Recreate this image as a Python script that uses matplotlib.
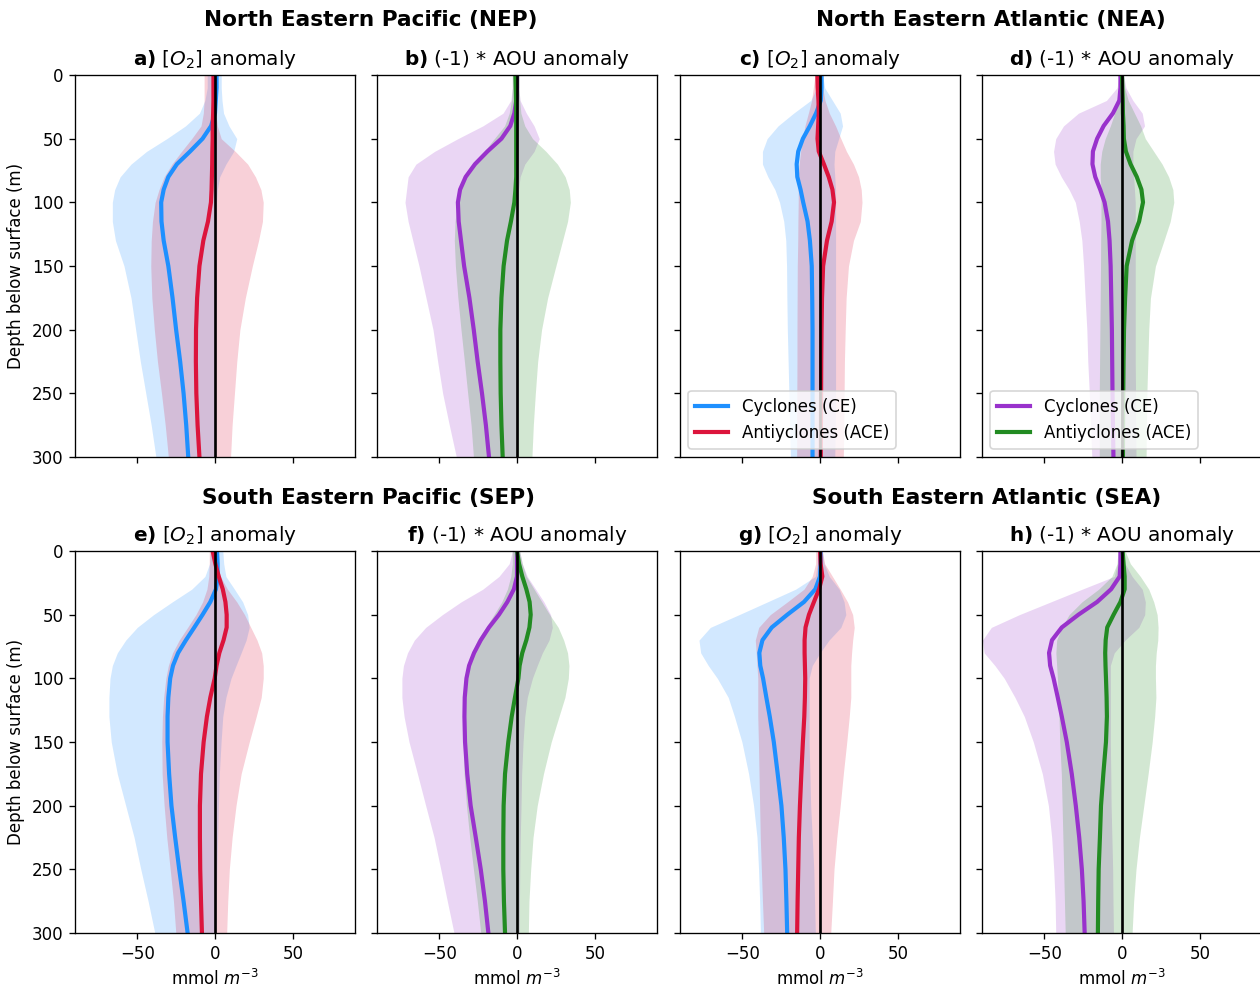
import matplotlib
matplotlib.use("Agg")
from matplotlib import pyplot as plt

DEPTH = [0, 10, 20, 30, 40, 50, 60, 70, 80, 90, 100, 115, 130, 150, 175, 200, 225, 250, 275, 300]

# a) NEP, [O2] anomaly
nep_o2_ce_mean = [1, 1, 0.5, 0, -2.5, -8, -16, -24.5, -30, -33, -34.6, -34.4, -33, -30, -27.3, -25, -22.4, -20.2, -18.5, -17.2]
nep_o2_ce_lo = [-5, -5, -6.5, -10, -19, -31, -44, -54, -61, -64.5, -66, -66, -64, -58.5, -54, -51, -48, -44.5, -41, -38]
nep_o2_ce_hi = [4, 4, 4.5, 5.5, 9, 14, 12, 7, 3, 1.5, 1, 1, 1, 1, 1, 0.5, 0.5, 0, 0, -0.5]
nep_o2_ace_mean = [-1, -1, -1, -1.2, -1.5, -1.5, -1.7, -1.8, -2, -2.2, -2.6, -4.5, -7.5, -10, -11.5, -12.2, -12.3, -12, -11.2, -10]
nep_o2_ace_lo = [-7, -7, -7, -7.5, -9, -15, -21.5, -27.7, -32.7, -36, -38.5, -40.2, -41, -41.3, -40.6, -39, -37, -34.4, -32, -30]
nep_o2_ace_hi = [0, 0, 0, 0.5, 1.5, 4, 13, 21, 26, 29.5, 31, 30.5, 28, 24, 19.5, 16, 14, 12.5, 11, 10]

# b) NEP, (-1) * AOU anomaly
nep_aou_ce_mean = [0, 0, -0.5, -1.7, -4.3, -10, -19, -27, -33, -36.6, -38, -37.5, -36, -34, -30.6, -27.8, -25.3, -22.5, -20, -18]
nep_aou_ce_lo = [-3, -3, -4, -9, -22, -38, -53, -65, -70, -71, -72, -70, -67, -63, -58.5, -54, -51, -47.8, -43.5, -39]
nep_aou_ce_hi = [0.5, 1, 2, 6, 11, 14.3, 11, 5, 2, 1, 1, 1, 1, 1, 1, 1, 1, 1, 1, 1]
nep_aou_ace_mean = [-1, -0.8, -0.6, -0.5, -0.5, -0.5, -0.5, -0.5, -0.5, -1, -1.7, -3.9, -6.4, -8.6, -10, -10.7, -10.7, -10.5, -10, -9.2]
nep_aou_ace_lo = [-3, -3, -3.5, -5, -8, -14.6, -21, -27.4, -32.8, -36.4, -38.5, -39.8, -40.3, -39.6, -38, -36, -33.8, -31.7, -29.5, -28]
nep_aou_ace_hi = [1.5, 1.5, 1.7, 2.5, 5, 10, 18.6, 26, 31, 33.6, 34.3, 32.5, 29.3, 25, 19.7, 15.8, 13.3, 11.8, 10.5, 9.6]

# c) NEA, [O2] anomaly
nea_o2_ce_mean = [1, 1, 0.5, -2.5, -6.5, -11, -14, -15, -14.6, -12.5, -10.8, -8, -6.5, -5.3, -5, -4.8, -4.8, -4.8, -4.8, -4.8]
nea_o2_ce_lo = [-2, -2, -6, -17, -27, -34, -37, -37, -33.5, -29, -26, -23.3, -22, -21.5, -21.3, -21, -20.5, -20, -19.5, -19]
nea_o2_ce_hi = [1.7, 3, 8, 13, 14.5, 12, 9.5, 9, 9.5, 10, 10, 10, 10, 10, 10, 10, 10, 10, 9.8, 9.5]
nea_o2_ace_mean = [-1.7, -1.5, -1, -0.8, -1.2, -1.6, -0.8, 2.5, 5.6, 8, 9, 7.5, 4.5, 2, 1.3, 1, 0.8, 0.7, 0.6, 0.5]
nea_o2_ace_lo = [-3.2, -4.3, -5.4, -7.5, -9.7, -11.2, -12.5, -13.4, -14, -14, -14, -14.2, -14.3, -14.6, -14.7, -14.8, -14.8, -14.9, -15, -15]
nea_o2_ace_hi = [1, 1.7, 3.2, 6, 10, 13.4, 17, 21.5, 24.8, 26.5, 27, 25.9, 21.5, 18.3, 16.8, 16.2, 15.7, 15.5, 15.3, 15]

# d) NEA, (-1) * AOU anomaly
nea_aou_ce_mean = [-1, -1, -1.7, -5.8, -11.8, -16, -18.7, -19, -17.2, -14, -11.2, -9, -8, -7.3, -6.9, -6.5, -6.3, -6.1, -5.8, -5.5]
nea_aou_ce_lo = [-1.7, -3.2, -10, -28, -37.6, -42.6, -44, -43, -39, -34, -30, -27.5, -25.8, -24.7, -23.7, -22.6, -22, -21, -20.2, -19.4]
nea_aou_ce_hi = [1, 2.5, 7, 13, 14.5, 9, 7, 7, 7.5, 8, 8.5, 8.5, 8.5, 8.5, 8.5, 8.5, 8.5, 8.7, 8.8, 9]
nea_aou_ace_mean = [0, 0.2, 0.5, 0.6, 1, 1.2, 2.5, 5.5, 9.5, 12.5, 13.5, 11, 6.5, 3, 2, 1.3, 1, 0.8, 0.7, 0.6]
nea_aou_ace_lo = [-1.7, -2, -3.2, -4.7, -7.5, -10.8, -13, -14, -14, -13.5, -13.5, -13.5, -13.7, -13.8, -14, -14.2, -14.4, -14.6, -14.6, -14.6]
nea_aou_ace_hi = [1, 1.7, 4, 8, 12, 15, 20.4, 25.8, 30, 32.7, 33.3, 31, 27, 21.5, 18.3, 17.2, 16.6, 16, 15.7, 15.5]

# e) SEP, [O2] anomaly
sep_o2_ce_mean = [1.3, 1.7, 1.7, 0.6, -3, -8, -13.3, -18.7, -23.7, -27, -28.8, -30, -30.5, -30.5, -29.5, -28, -25.6, -23, -20.2, -17.6]
sep_o2_ce_lo = [-3, -3.5, -6.5, -15, -27.5, -39.5, -50, -57.4, -62.8, -66, -67.5, -68.2, -68.2, -66.7, -62.8, -57.4, -52, -47.7, -43, -38.7]
sep_o2_ce_hi = [5, 5.6, 7, 12.5, 17.8, 21, 22, 20, 16.8, 13.5, 10.3, 7, 5, 3.9, 2.8, 2.2, 1.7, 1.2, 0.9, 0.6]
sep_o2_ace_mean = [-1.5, 0.2, 2.4, 5, 6.7, 7.5, 7.5, 5.5, 2.8, 1, -0.2, -3, -5.2, -7.3, -9, -9.7, -9.7, -9.5, -9, -8.4]
sep_o2_ace_lo = [-3.7, -3.7, -4, -5.2, -8, -12.3, -17.6, -23, -27.3, -30, -31.6, -33, -33.8, -34.2, -34, -32.7, -31, -28.8, -26.7, -25.2]
sep_o2_ace_hi = [0, 1, 3.5, 8, 14, 19, 23, 27, 30, 31, 31, 29.7, 26.5, 22, 16.8, 13.5, 11, 9.2, 8.2, 7.5]

# f) SEP, (-1) * AOU anomaly
sep_aou_ce_mean = [0, 0, 0, -2, -6.2, -11.6, -18, -23.3, -27.6, -30.8, -32.5, -33.6, -33.8, -33.4, -32, -29.8, -26.5, -23.3, -20.6, -18.4]
sep_aou_ce_lo = [-3, -5, -11.6, -22, -36, -48, -58.7, -66, -70.4, -73, -74, -74, -72.6, -69.4, -64, -58.7, -53.3, -49, -44.8, -40.5]
sep_aou_ce_hi = [1.7, 3.4, 6.6, 12, 17.3, 21.6, 22.7, 20.6, 16.3, 13, 9.9, 6.6, 5, 3.9, 3, 2.6, 2.1, 1.8, 1.6, 1.5]
sep_aou_ace_mean = [0, 1.3, 3.4, 6, 8.1, 8.8, 8, 6, 3.4, 1.7, 0.9, -1.3, -3.4, -5.6, -7.7, -8.6, -8.8, -8.8, -8.4, -7.7]
sep_aou_ace_lo = [-3, -3, -4, -6.2, -9.8, -14.8, -20, -25.5, -29, -31.5, -33, -33.8, -34.3, -34.5, -34, -32.5, -30.4, -28, -25.5, -23.3]
sep_aou_ace_hi = [1.7, 3.4, 6, 11, 16, 21, 26.5, 30, 32.5, 33.4, 33, 30.8, 27, 22, 17, 13, 10.3, 8.8, 7.7, 7.3]

# g) SEA, [O2] anomaly
sea_o2_ce_mean = [0.4, 0.4, 0, -3, -10.3, -21, -31, -37, -39, -38.4, -36.6, -34.5, -32.3, -29.7, -27.2, -24.8, -23.3, -22.2, -21.6, -21.1]
sea_o2_ce_lo = [-1.7, -1.7, -3, -15.7, -33.8, -52, -70.5, -77.8, -76.7, -71.8, -66, -59, -55, -50.2, -45.9, -42.7, -40.5, -39.5, -38.8, -38.3]
sea_o2_ce_hi = [1.5, 2.6, 6, 12.3, 15.5, 16.6, 13.4, 5.8, 0, -5, -7, -7, -7, -7, -6.5, -6, -5, -4, -3.5, -3]
sea_o2_ace_mean = [0, 0.4, 1.5, -0.6, -3.9, -7.1, -9.3, -9.9, -9.9, -9.7, -9.5, -9.7, -10.1, -11, -12, -12.9, -13.6, -14, -14.4, -14.7]
sea_o2_ace_lo = [-2.8, -2.8, -5, -10.3, -21, -32, -39.4, -41.6, -41, -40.5, -40, -40, -40, -39.6, -39.2, -38.8, -38.4, -37.7, -37, -36.2]
sea_o2_ace_hi = [1.5, 3, 8, 13, 17.7, 21, 22, 21, 20.3, 19.8, 19.8, 19.8, 18.8, 17.2, 15, 13, 10.8, 9, 8, 6.9]

# h) SEA, (-1) * AOU anomaly
sea_aou_ce_mean = [-1, -1, -1.5, -7, -16, -28, -38.7, -45, -46.9, -46.2, -44, -41.3, -38.7, -35.5, -32.3, -29.7, -27.5, -25.8, -24.7, -24]
sea_aou_ce_lo = [-2, -3, -5, -25.6, -45.8, -66, -84, -89.7, -88.6, -81.7, -75.7, -68.8, -62.8, -57, -51.2, -47.3, -45.2, -43.9, -43, -42.6]
sea_aou_ce_hi = [1, 2, 6.5, 13, 15, 14.6, 10.8, 2, -5, -7.5, -7.5, -7.5, -7.5, -7.5, -7.2, -7, -6.5, -6, -5.8, -5.5]
sea_aou_ace_mean = [0.4, 1, 1.7, 1.7, -1, -5.4, -9.5, -10.5, -10.8, -10.6, -10.3, -9.9, -9.7, -10.3, -12, -13.5, -14.2, -15, -15.3, -15.5]
sea_aou_ace_lo = [-2.6, -3.2, -6.5, -15, -25.8, -34, -38.7, -42, -42.5, -42, -41.5, -41, -40.5, -40, -39, -38.5, -38, -37.5, -37, -36.5]
sea_aou_ace_hi = [2, 5.4, 11.8, 17.2, 20.4, 22.6, 23.2, 23, 22, 21.5, 21.5, 21.8, 21, 19.4, 16.8, 14, 11.2, 9, 7.5, 6.5]

O2_COLORS = ("dodgerblue", "crimson")
AOU_COLORS = ("darkorchid", "forestgreen")
LABELS = ("Cyclones (CE)", "Antiyclones (ACE)")


def draw_panel(ax, ce, ace, colors, title, legend=False):
    c_ce, c_ace = colors
    ax.fill_betweenx(DEPTH, ce[1], ce[2], color=c_ce, alpha=0.2, linewidth=0)
    ax.fill_betweenx(DEPTH, ace[1], ace[2], color=c_ace, alpha=0.2, linewidth=0)
    ax.plot(ce[0], DEPTH, color=c_ce, lw=2.5, label=LABELS[0])
    ax.plot(ace[0], DEPTH, color=c_ace, lw=2.5, label=LABELS[1])
    ax.axvline(0, color="k", lw=1.6)
    ax.set_xlim(-90, 90)
    ax.set_ylim(300, 0)
    ax.set_xticks([-50, 0, 50])
    ax.set_yticks([0, 50, 100, 150, 200, 250, 300])
    ax.set_title(title, fontsize=12)
    if legend:
        ax.legend(loc="lower left", fontsize=10)


# original was drawn at 120 dpi
fig = plt.figure(figsize=(1260 / 120, 989 / 120), dpi=120)

lefts = [75 / 1260, 377 / 1260, 680 / 1260, 982 / 1260]
w = 280 / 1260
h = 382 / 989
bottoms = [1 - 457 / 989, 1 - 933 / 989]

panels = [
    [
        ((nep_o2_ce_mean, nep_o2_ce_lo, nep_o2_ce_hi), (nep_o2_ace_mean, nep_o2_ace_lo, nep_o2_ace_hi), O2_COLORS, r"$\bf{a)}$ [$O_2$] anomaly", False),
        ((nep_aou_ce_mean, nep_aou_ce_lo, nep_aou_ce_hi), (nep_aou_ace_mean, nep_aou_ace_lo, nep_aou_ace_hi), AOU_COLORS, r"$\bf{b)}$ (-1) * AOU anomaly", False),
        ((nea_o2_ce_mean, nea_o2_ce_lo, nea_o2_ce_hi), (nea_o2_ace_mean, nea_o2_ace_lo, nea_o2_ace_hi), O2_COLORS, r"$\bf{c)}$ [$O_2$] anomaly", True),
        ((nea_aou_ce_mean, nea_aou_ce_lo, nea_aou_ce_hi), (nea_aou_ace_mean, nea_aou_ace_lo, nea_aou_ace_hi), AOU_COLORS, r"$\bf{d)}$ (-1) * AOU anomaly", True),
    ],
    [
        ((sep_o2_ce_mean, sep_o2_ce_lo, sep_o2_ce_hi), (sep_o2_ace_mean, sep_o2_ace_lo, sep_o2_ace_hi), O2_COLORS, r"$\bf{e)}$ [$O_2$] anomaly", False),
        ((sep_aou_ce_mean, sep_aou_ce_lo, sep_aou_ce_hi), (sep_aou_ace_mean, sep_aou_ace_lo, sep_aou_ace_hi), AOU_COLORS, r"$\bf{f)}$ (-1) * AOU anomaly", False),
        ((sea_o2_ce_mean, sea_o2_ce_lo, sea_o2_ce_hi), (sea_o2_ace_mean, sea_o2_ace_lo, sea_o2_ace_hi), O2_COLORS, r"$\bf{g)}$ [$O_2$] anomaly", False),
        ((sea_aou_ce_mean, sea_aou_ce_lo, sea_aou_ce_hi), (sea_aou_ace_mean, sea_aou_ace_lo, sea_aou_ace_hi), AOU_COLORS, r"$\bf{h)}$ (-1) * AOU anomaly", False),
    ],
]

for row, bottom in enumerate(bottoms):
    for col, left in enumerate(lefts):
        ax = fig.add_axes([left, bottom, w, h])
        ce, ace, colors, title, legend = panels[row][col]
        draw_panel(ax, ce, ace, colors, title, legend)
        if col == 0:
            ax.set_ylabel("Depth below surface (m)")
        else:
            ax.tick_params(labelleft=False)
        if row == 0:
            ax.tick_params(labelbottom=False)
        else:
            ax.set_xlabel(r"mmol $m^{-3}$")

# region titles
fig.text(371 / 1260, 1 - 20 / 989, "North Eastern Pacific (NEP)", ha="center", va="center", fontsize=13, fontweight="bold")
fig.text(991 / 1260, 1 - 20 / 989, "North Eastern Atlantic (NEA)", ha="center", va="center", fontsize=13, fontweight="bold")
fig.text(368 / 1260, 1 - 498 / 989, "South Eastern Pacific (SEP)", ha="center", va="center", fontsize=13, fontweight="bold")
fig.text(987 / 1260, 1 - 498 / 989, "South Eastern Atlantic (SEA)", ha="center", va="center", fontsize=13, fontweight="bold")

fig.savefig("out.png", dpi=120)
